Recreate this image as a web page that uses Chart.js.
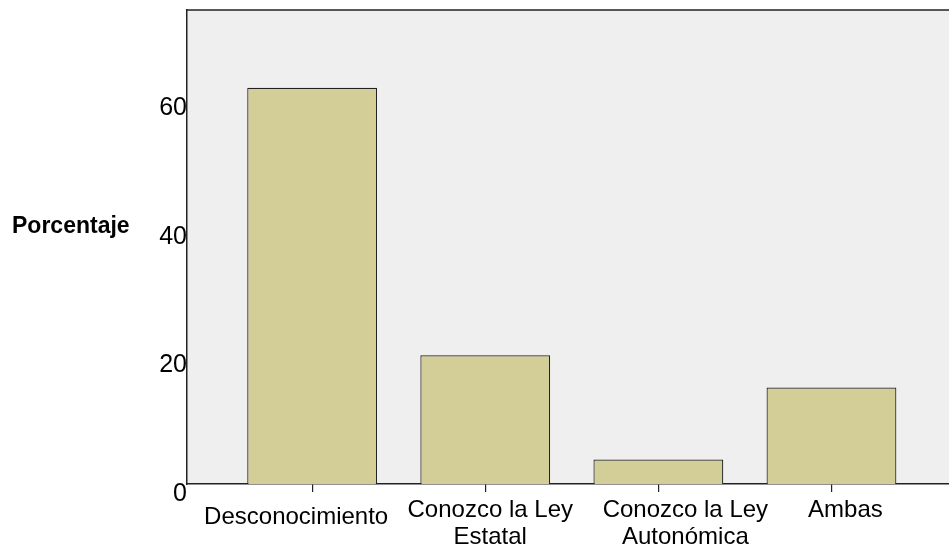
<!DOCTYPE html>
<html>
<head>
<meta charset="utf-8">
<script src="https://cdn.jsdelivr.net/npm/chart.js@4/dist/chart.umd.min.js"></script>
<style>
  html, body { margin: 0; padding: 0; background: #fff; }
  #wrap { width: 949px; height: 549px; }
</style>
</head>
<body>
<div id="wrap"><canvas id="barChart" width="949" height="549"></canvas></div>
<script>
const categories = ['Desconocimiento', 'Conozco la Ley Estatal', 'Conozco la Ley Autonómica', 'Ambas'];
const percentages = [61.6, 20.0, 3.8, 15.0];
const yTicks = [0, 20, 40, 60];
const yTitle = 'Porcentaje';

const FONT = '"Liberation Sans", Arial, sans-serif';
// SPSS nudges the category labels sideways / down to avoid overlaps
const labelShift = [[-16, 7], [5, 0], [27, 0], [14, 0]];

function wrapLabel(s) {
  const i = s.indexOf('Ley ');
  return i > 0 ? [s.slice(0, i + 3), s.slice(i + 4)] : [s];
}

const panelPlugin = {
  id: 'panel',
  beforeDraw(chart) {
    const { ctx, chartArea: a } = chart;
    ctx.save();
    ctx.fillStyle = '#efefef';
    ctx.fillRect(a.left, a.top, a.right - a.left, a.bottom - a.top);
    ctx.strokeStyle = '#222';
    ctx.lineWidth = 1.5;
    ctx.beginPath();
    ctx.moveTo(a.left, a.top);
    ctx.lineTo(a.right, a.top);
    ctx.stroke();
    ctx.restore();
  },
  afterDraw(chart) {
    const { ctx, chartArea: a } = chart;
    const xs = chart.scales.x;
    ctx.save();
    ctx.fillStyle = '#000';
    ctx.font = 'bold 23px ' + FONT;
    ctx.textAlign = 'left';
    ctx.textBaseline = 'middle';
    ctx.fillText(yTitle, 12, 227);

    ctx.font = '24px ' + FONT;
    ctx.textAlign = 'center';
    ctx.textBaseline = 'alphabetic';
    categories.forEach((c, i) => {
      const [dx, dy] = labelShift[i];
      const x = xs.getPixelForValue(i) + dx;
      wrapLabel(c).forEach((line, k) => {
        ctx.fillText(line, x, a.bottom + 33 + dy + k * 26.6);
      });
    });
    ctx.restore();
  }
};

new Chart(document.getElementById('barChart'), {
  type: 'bar',
  data: {
    datasets: [{
      data: percentages.map((v, i) => ({ x: i, y: v })),
      backgroundColor: '#d3ce98',
      borderColor: '#222',
      borderWidth: 1.2,
      borderSkipped: 'bottom',
      barPercentage: 0.75,
      categoryPercentage: 1
    }]
  },
  options: {
    responsive: false,
    animation: false,
    layout: { padding: { top: 10, right: 0, left: 0, bottom: 0 } },
    plugins: { legend: { display: false }, tooltip: { enabled: false } },
    scales: {
      x: {
        type: 'linear',
        offset: false,
        min: -0.723,
        max: 3.679,
        afterBuildTicks: s => { s.ticks = categories.map((c, i) => ({ value: i })); },
        afterFit: s => { s.height = 65; s.paddingLeft = 0; s.paddingRight = 0; },
        grid: { offset: false, drawOnChartArea: false, drawTicks: true, tickLength: 8, color: '#222', lineWidth: 1.2 },
        border: { display: true, color: '#222', width: 1.5 },
        ticks: { display: false }
      },
      y: {
        min: 0,
        max: 73.7,
        afterBuildTicks: s => { s.ticks = yTicks.map(v => ({ value: v })); },
        afterFit: s => { s.width = 187; s.paddingTop = 0; s.paddingBottom = 0; },
        grid: { display: false, drawTicks: false, tickLength: 0 },
        border: { display: true, color: '#222', width: 1.5 },
        ticks: {
          color: '#000',
          padding: 0,
          labelOffset: 10,
          font: { family: FONT, size: 25 }
        }
      }
    }
  },
  plugins: [panelPlugin]
});
</script>
</body>
</html>
